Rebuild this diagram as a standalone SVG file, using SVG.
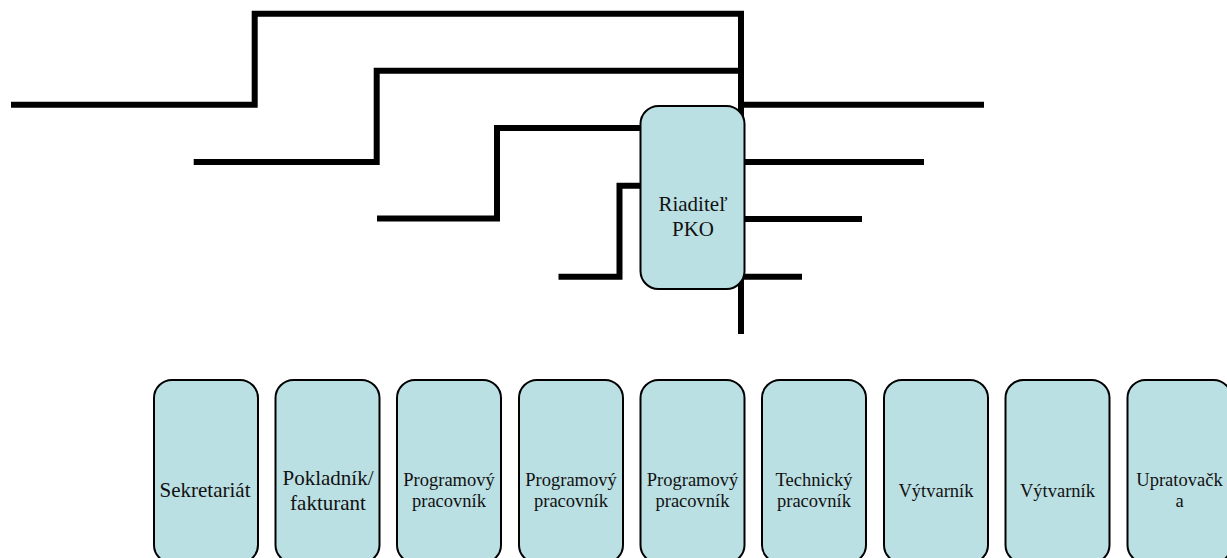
<svg xmlns="http://www.w3.org/2000/svg" width="1227" height="558" viewBox="0 0 1227 558">
<style>
.c{fill:none;stroke:#000;stroke-width:6;stroke-linejoin:miter;stroke-linecap:butt}
.n{fill:#bbe0e3;stroke:#000;stroke-width:2}
text{font-family:"Liberation Serif","Times New Roman",serif;fill:#111;text-anchor:middle}
.a{font-size:21px}
.d{font-size:18.5px}
</style>
<rect width="1227" height="558" fill="#fff"/>
<g id="connectors">
<path class="c" d="M11 104.7H254.7V13.7H741V334"/>
<path class="c" d="M193.7 162H376.7V70.7H741"/>
<path class="c" d="M377 218.5H497V128H641"/>
<path class="c" d="M558.5 276.7H619.5V185.7H641"/>
<path class="c" d="M741 104.7H984"/>
<path class="c" d="M741 162H924"/>
<path class="c" d="M741 219H862"/>
<path class="c" d="M741 276.7H802"/>
</g>
<g id="n-riaditel"><rect class="n" x="640.5" y="106" width="104" height="183" rx="18"/><text class="a" x="693" y="211">Riaditeľ</text><text class="a" x="693" y="236">PKO</text></g>
<g id="n-sekretariat"><rect class="n" x="154" y="380" width="104" height="183" rx="18"/><text class="a" x="205" y="497">Sekretariát</text></g>
<g id="n-pokladnik"><rect class="n" x="275.5" y="380" width="104" height="183" rx="18"/><text class="a" x="328" y="485">Pokladník/</text><text class="a" x="328" y="510">fakturant</text></g>
<g id="n-prog1"><rect class="n" x="397" y="380" width="104" height="183" rx="18"/><text class="d" x="449" y="486">Programový</text><text class="d" x="449" y="507">pracovník</text></g>
<g id="n-prog2"><rect class="n" x="519" y="380" width="104" height="183" rx="18"/><text class="d" x="571" y="486">Programový</text><text class="d" x="571" y="507">pracovník</text></g>
<g id="n-prog3"><rect class="n" x="640.5" y="380" width="104" height="183" rx="18"/><text class="d" x="692.5" y="486">Programový</text><text class="d" x="692.5" y="507">pracovník</text></g>
<g id="n-tech"><rect class="n" x="762" y="380" width="104" height="183" rx="18"/><text class="d" x="814" y="486">Technický</text><text class="d" x="814" y="507">pracovník</text></g>
<g id="n-vyt1"><rect class="n" x="884" y="380" width="104" height="183" rx="18"/><text class="d" x="936" y="497">Výtvarník</text></g>
<g id="n-vyt2"><rect class="n" x="1005.5" y="380" width="104" height="183" rx="18"/><text class="d" x="1057.5" y="497">Výtvarník</text></g>
<g id="n-upr"><rect class="n" x="1127.5" y="380" width="104" height="183" rx="18"/><text class="d" x="1179.5" y="486">Upratovačk</text><text class="d" x="1179.5" y="507">a</text></g>
</svg>
